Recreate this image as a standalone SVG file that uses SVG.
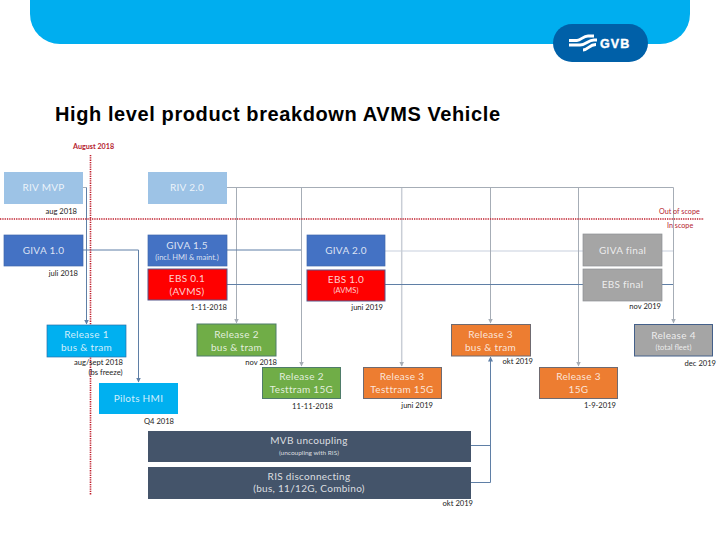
<svg xmlns="http://www.w3.org/2000/svg" width="720" height="540" viewBox="0 0 720 540">
<style>
text{font-family:"Lato","Open Sans","Liberation Sans",sans-serif}
.t{fill:#fff;fill-opacity:.82;font-size:10px;text-anchor:middle;letter-spacing:.3px}
.s{fill:#fff;fill-opacity:.8;font-size:7.5px;text-anchor:middle}
.d{fill:#1c1c1c;font-size:7.6px;text-anchor:end}
.r{fill:#b5222f;font-size:7.2px}
.c{fill:none;stroke-width:1}
.gray{stroke:#a6adb6}
.blue{stroke:#5f7fa6}
.lt{stroke:#e3e7ee;stroke-width:2}
.ltb{stroke:#c9ced6;stroke-width:1.5}
.red{fill:none;stroke:#c0202e;stroke-width:1.6;stroke-dasharray:1.3 1}
.b1{fill:#9dc3e6}.b2{fill:#4472c4;stroke:#3f68ad;stroke-width:.7}
.b3{fill:#f00;stroke:#56568a;stroke-width:1}
.b4{fill:#a5a5a5;stroke:#8d9094;stroke-width:.7}
.b5{fill:#00b0f0;stroke:#2a6fa8;stroke-width:.7}
.b6{fill:#70ad47;stroke:#4f7c6a;stroke-width:1}
.b7{fill:#ed7d31;stroke:#6f6a70;stroke-width:1}
.b8{fill:#44546a}
</style>
<defs>
<marker id="ag" markerWidth="6" markerHeight="5" refX="4.5" refY="2.500" orient="auto" markerUnits="userSpaceOnUse"><path d="M0 0L5 2.500L0 5z" fill="#a6adb6"/></marker>
<marker id="ab" markerWidth="6" markerHeight="5" refX="4.5" refY="2.500" orient="auto" markerUnits="userSpaceOnUse"><path d="M0 0L5 2.500L0 5z" fill="#5f7fa6"/></marker>
</defs>
<g id="header">
<path d="M30 0H690V14A30 30 0 0 1 660 44H60A30 30 0 0 1 30 14Z" fill="#00aeef"/>
<rect x="553" y="24" width="95" height="38" rx="19" fill="#0060a8"/>
<path d="M569 40.500H577C581 40.500 583 36 588 36H594M569 45H580C586 45 588 40 594 40H597M583 50C588 50 589 44.500 596 44.500" fill="none" stroke="#fff" stroke-width="2.800"/>
<text x="600" y="48" font-size="12.500" font-weight="700" fill="#fff" stroke="#fff" stroke-width=".4" style="font-family:'Liberation Sans',sans-serif;letter-spacing:1.100px">GVB</text>
</g>
<text id="title" x="55" y="121" style="font-family:'Liberation Sans',sans-serif" font-size="20" font-weight="700" fill="#000" textLength="445">High level product breakdown AVMS Vehicle</text>
<g id="connectors">
<path class="c lt" d="M385 251H583M662 251H673"/>
<path class="c ltb" d="M401.700 187V366" marker-end="url(#ag)"/>
<path class="c gray" d="M83 187.500H86.500"/>
<path class="c blue" d="M86.500 187.500V324" marker-end="url(#ab)"/>
<path class="c gray" d="M227 187.500H673.500V323" marker-end="url(#ag)"/>
<path class="c gray" d="M236.500 187.500V323" marker-end="url(#ag)"/>
<path class="c gray" d="M301.500 187.500V366" marker-end="url(#ag)"/>
<path class="c gray" d="M490.500 187.500V323" marker-end="url(#ag)"/>
<path class="c gray" d="M578.500 187.500V366" marker-end="url(#ag)"/>
<path class="c blue" d="M83 250H138.500V382" marker-end="url(#ab)"/>
<path class="c blue" d="M227 250H301M227 284.500H301M385 284.500H583M662 284.500H673"/>
<path class="c blue" d="M471 445.500H490.500M471 482.500H490.500V357" marker-end="url(#ab)"/>
<path class="red" d="M90.500 155V495"/>
<path class="red" d="M0 219H704"/>
</g>
<g id="riv-mvp"><rect class="b1" x="4" y="172" width="79" height="32"/><text class="t" x="43.500" y="191">RIV MVP</text><text class="d" x="77" y="214">aug 2018</text></g>
<g id="riv-2"><rect class="b1" x="148" y="172" width="79" height="32"/><text class="t" x="187" y="191">RIV 2.0</text></g>
<g id="giva-1"><rect class="b2" x="4" y="235" width="79" height="31"/><text class="t" x="43.500" y="254">GIVA 1.0</text><text class="d" x="78" y="276">juli 2018</text></g>
<g id="giva-15"><rect class="b2" x="148" y="235" width="79" height="31"/><text class="t" x="187" y="249">GIVA 1.5</text><text class="s" x="187" y="259.500">(incl. HMI &amp; maint.)</text></g>
<g id="ebs-01"><rect class="b3" x="148" y="269" width="79" height="31"/><text class="t" x="187" y="282">EBS 0.1</text><text class="t" x="187" y="295">(AVMS)</text><text class="d" x="227" y="310">1-11-2018</text></g>
<g id="giva-2"><rect class="b2" x="307" y="235" width="78" height="31"/><text class="t" x="346" y="254">GIVA 2.0</text></g>
<g id="ebs-1"><rect class="b3" x="307" y="270" width="78" height="31"/><text class="t" x="346" y="283">EBS 1.0</text><text class="s" x="346" y="293">(AVMS)</text><text class="d" x="383" y="310">juni 2019</text></g>
<g id="giva-final"><rect class="b4" x="583" y="234" width="79" height="32"/><text class="t" x="622.500" y="254">GIVA final</text></g>
<g id="ebs-final"><rect class="b4" x="583" y="269" width="79" height="32"/><text class="t" x="622.500" y="288">EBS final</text><text class="d" x="661" y="309">nov 2019</text></g>
<g id="release-1"><rect class="b5" x="47" y="325" width="79" height="32"/><text class="t" x="86.500" y="338">Release 1</text><text class="t" x="86.500" y="351">bus &amp; tram</text><text class="d" x="123" y="365">aug/sept 2018</text><text class="d" x="122.500" y="375">(bs freeze)</text></g>
<g id="release-2"><rect class="b6" x="197" y="324" width="79" height="32"/><text class="t" x="236.500" y="338">Release 2</text><text class="t" x="236.500" y="351">bus &amp; tram</text><text class="d" x="277" y="365">nov 2018</text></g>
<g id="release-3"><rect class="b7" x="451.500" y="324.500" width="79" height="31.500"/><text class="t" x="490.500" y="338">Release 3</text><text class="t" x="490.500" y="351">bus &amp; tram</text><text class="d" x="533" y="364">okt 2019</text></g>
<g id="release-4"><rect class="b4" x="634.500" y="324.500" width="78" height="31.500" style="stroke:#44608a;stroke-width:1"/><text class="t" x="673.500" y="339">Release 4</text><text class="s" x="673.500" y="350">(total fleet)</text><text class="d" x="716" y="366">dec  2019</text></g>
<g id="release-2-testtram"><rect class="b6" x="262.500" y="367.500" width="78" height="31"/><text class="t" x="301.500" y="380">Release 2</text><text class="t" x="301.500" y="393">Testtram 15G</text><text class="d" x="333" y="409">11-11-2018</text></g>
<g id="release-3-testtram"><rect class="b7" x="363.500" y="367.500" width="78" height="31"/><text class="t" x="402" y="380">Release 3</text><text class="t" x="402" y="393">Testtram 15G</text><text class="d" x="433" y="408">juni 2019</text></g>
<g id="release-3-15g"><rect class="b7" x="539.500" y="367.500" width="78" height="31"/><text class="t" x="578.500" y="380">Release 3</text><text class="t" x="578.500" y="393">15G</text><text class="d" x="616" y="408">1-9-2019</text></g>
<g id="pilots-hmi"><rect class="b5" x="99" y="383" width="79" height="31" style="stroke:none"/><text class="t" x="138.500" y="402">Pilots HMI</text><text class="d" x="174" y="424">Q4 2018</text></g>
<g id="mvb"><rect class="b8" x="148" y="431" width="323" height="31"/><text class="t" x="309" y="444">MVB uncoupling</text><text class="s" x="309" y="455" style="font-size:6.5px">(uncoupling with RIS)</text></g>
<g id="ris"><rect class="b8" x="148" y="467" width="323" height="32"/><text class="t" x="309" y="480">RIS disconnecting</text><text class="t" x="309" y="492">(bus, 11/12G, Combino)</text><text class="d" x="473" y="506">okt 2019</text></g>
<g id="scope"><text class="r" x="73" y="149" style="font-weight:700">August 2018</text><text class="r" x="659" y="214">Out of scope</text><text class="r" x="667" y="228">In scope</text></g>
</svg>
